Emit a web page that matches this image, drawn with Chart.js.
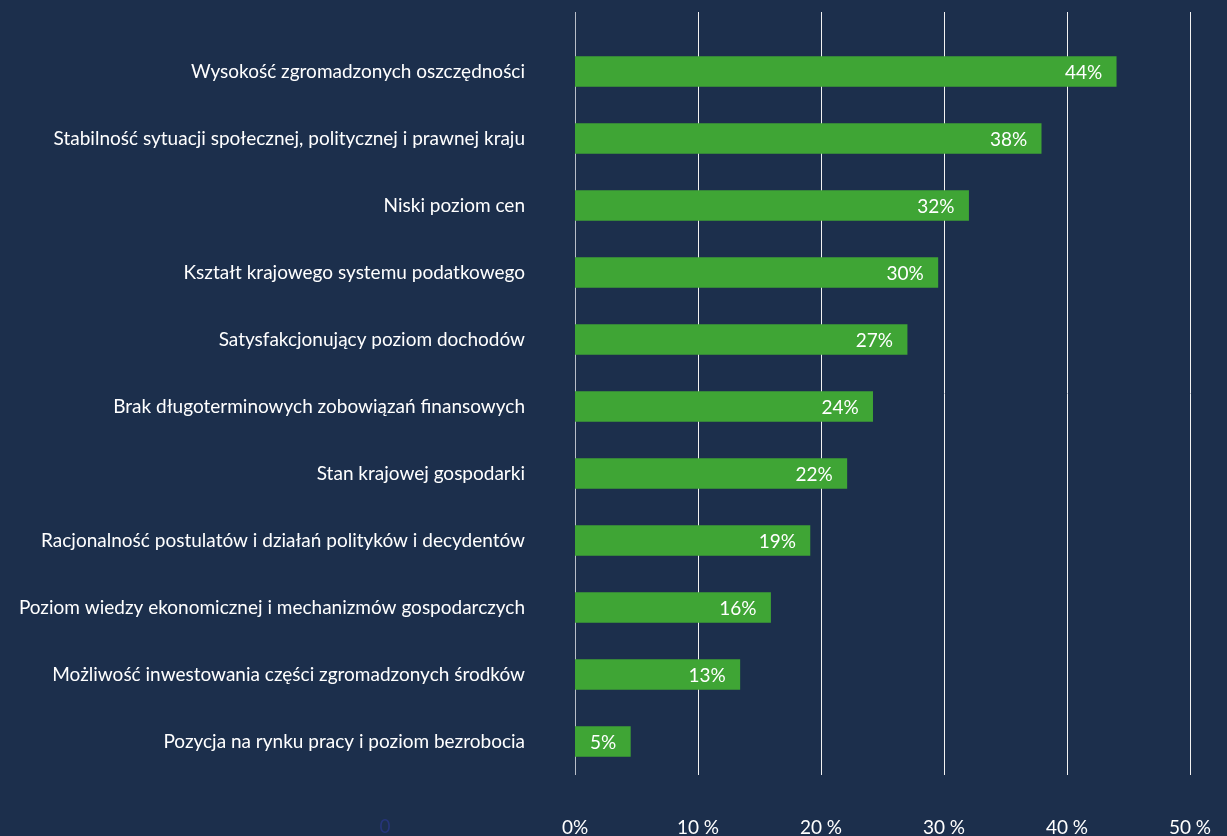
<!DOCTYPE html>
<html>
<head>
<meta charset="utf-8">
<script src="https://cdn.jsdelivr.net/npm/chart.js@4.4.1/dist/chart.umd.min.js"></script>
<style>
  html, body { margin: 0; padding: 0; background: #1c2f4c; }
  #wrap { width: 1227px; height: 836px; position: relative; }
</style>
</head>
<body>
<div id="wrap"><canvas id="chart"></canvas></div>
<script>
  // kategorie (od góry)
  var categories = [
    'Wysokość zgromadzonych oszczędności',
    'Stabilność sytuacji społecznej, politycznej i prawnej kraju',
    'Niski poziom cen',
    'Kształt krajowego systemu podatkowego',
    'Satysfakcjonujący poziom dochodów',
    'Brak długoterminowych zobowiązań finansowych',
    'Stan krajowej gospodarki',
    'Racjonalność postulatów i działań polityków i decydentów',
    'Poziom wiedzy ekonomicznej i mechanizmów gospodarczych',
    'Możliwość inwestowania części zgromadzonych środków',
    'Pozycja na rynku pracy i poziom bezrobocia'
  ];
  // długości słupków (%)
  var values = [44.0, 37.9, 32.0, 29.5, 27.0, 24.2, 22.1, 19.1, 15.9, 13.4, 4.5];
  // etykiety na słupkach
  var valueLabels = ['44%', '38%', '32%', '30%', '27%', '24%', '22%', '19%', '16%', '13%', '5%'];
  // oś X
  var xTicks = [0, 10, 20, 30, 40, 50];
  var xTickLabels = ['0%', '10 %', '20 %', '30 %', '40 %', '50 %'];

  var FONT = 'Lato, "Open Sans", sans-serif';

  /* pionowe linie siatki – sięgają wyżej niż obszar wykresu */
  var gridPlugin = {
    id: 'grid',
    beforeDatasetsDraw: function (chart) {
      var ctx = chart.ctx, x = chart.scales.x, area = chart.chartArea;
      ctx.save();
      ctx.lineWidth = 1;
      xTicks.forEach(function (t, i) {
        var px = Math.round(x.getPixelForValue(t)) + 0.5;
        ctx.strokeStyle = i === 0 ? '#b8bec8' : '#f2f2f2';
        ctx.beginPath();
        ctx.moveTo(px, 12);
        ctx.lineTo(px, area.bottom);
        ctx.stroke();
      });
      ctx.restore();
    }
  };

  /* etykiety wartości wewnątrz końca słupka + zabłąkane "0" */
  var labelPlugin = {
    id: 'labels',
    afterDatasetsDraw: function (chart) {
      var ctx = chart.ctx;
      var meta = chart.getDatasetMeta(0);
      ctx.save();
      ctx.font = '19px ' + FONT;
      ctx.fillStyle = '#ffffff';
      ctx.textAlign = 'right';
      ctx.textBaseline = 'middle';
      meta.data.forEach(function (bar, i) {
        ctx.fillText(valueLabels[i], bar.x - 14, bar.y + 1);
      });
      ctx.fillStyle = '#26357a';
      ctx.textAlign = 'center';
      ctx.fillText('0', 385, chart.height - 9);
      ctx.restore();
    }
  };

  new Chart(document.getElementById('chart'), {
    type: 'bar',
    data: {
      labels: categories,
      datasets: [{
        data: values,
        backgroundColor: '#3fa535',
        barThickness: 30
      }]
    },
    options: {
      indexAxis: 'y',
      responsive: true,
      maintainAspectRatio: false,
      animation: false,
      layout: { padding: { top: 38, right: 37, bottom: 0, left: 0 } },
      scales: {
        x: {
          min: 0,
          max: 50,
          afterBuildTicks: function (axis) {
            axis.ticks = xTicks.map(function (v) { return { value: v }; });
          },
          afterFit: function (axis) {
            axis.height = 61;
            axis.paddingLeft = 0;
            axis.paddingRight = 0;
          },
          grid: { display: false, drawTicks: false },
          border: { display: false },
          ticks: {
            color: '#ffffff',
            font: { family: FONT, size: 19 },
            padding: 41,
            maxRotation: 0,
            callback: function (v) { return xTickLabels[xTicks.indexOf(v)]; }
          }
        },
        y: {
          grid: { display: false, drawTicks: false },
          border: { display: false },
          afterFit: function (axis) {
            axis.width = 575;
            axis.paddingTop = 0;
            axis.paddingBottom = 0;
          },
          ticks: {
            color: '#ffffff',
            font: { family: FONT, size: 19 },
            padding: 50
          }
        }
      },
      plugins: {
        legend: { display: false },
        tooltip: { enabled: false }
      }
    },
    plugins: [gridPlugin, labelPlugin]
  });
</script>
</body>
</html>
